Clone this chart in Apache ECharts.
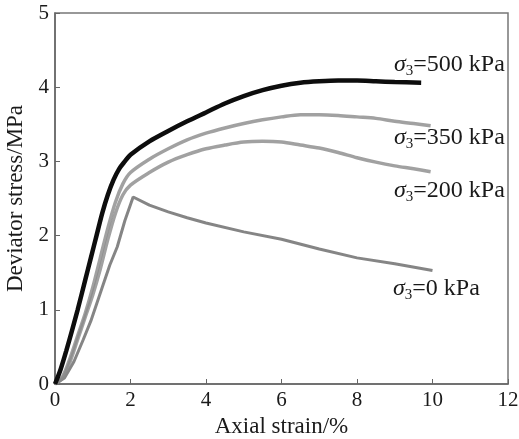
<!DOCTYPE html>
<html>
<head>
<meta charset="utf-8">
<script src="https://cdn.jsdelivr.net/npm/echarts@6/dist/echarts.min.js"></script>
<style>
  html, body { margin: 0; padding: 0; background: #fff; }
  #chart { width: 519px; height: 439px; }
</style>
</head>
<body>
<div id="chart"></div>
<script>
// Triaxial test: deviator stress vs axial strain at four confining pressures
const xTicks = [0, 2, 4, 6, 8, 10, 12];
const yTicks = [0, 1, 2, 3, 4, 5];

// [axial strain %, deviator stress MPa]
const curve500 = [[0,0],[0.15,0.2],[0.3,0.45],[0.45,0.72],[0.6,1.0],[0.8,1.4],[0.95,1.7],[1.1,2.0],[1.25,2.3],[1.4,2.55],[1.55,2.75],[1.7,2.9],[1.85,3.0],[2,3.09],[2.5,3.27],[3,3.41],[3.5,3.54],[4,3.66],[4.5,3.78],[5,3.88],[5.5,3.96],[6,4.02],[6.5,4.06],[7,4.08],[7.5,4.09],[8,4.09],[8.5,4.08],[9,4.07],[9.7,4.06]];
const curve350 = [[0,0],[0.2,0.1],[0.4,0.35],[0.6,0.65],[0.8,0.95],[1.0,1.3],[1.2,1.7],[1.4,2.1],[1.6,2.45],[1.8,2.7],[2,2.85],[2.5,3.03],[3,3.17],[3.5,3.29],[4,3.38],[4.5,3.45],[5,3.51],[5.5,3.56],[6,3.6],[6.5,3.63],[7,3.63],[7.5,3.62],[8,3.6],[8.5,3.58],[9,3.54],[9.5,3.51],[9.95,3.48]];
const curve200 = [[0,0],[0.2,0.08],[0.4,0.3],[0.6,0.6],[0.8,0.9],[1.0,1.2],[1.2,1.55],[1.4,1.95],[1.6,2.3],[1.8,2.55],[2,2.68],[2.5,2.85],[3,2.99],[3.5,3.09],[4,3.17],[4.5,3.22],[5,3.26],[5.5,3.27],[6,3.26],[6.5,3.22],[7,3.18],[7.5,3.12],[8,3.05],[8.5,2.99],[9,2.94],[9.5,2.9],[9.95,2.86]];
const curve0 = [[0,0],[0.25,0.08],[0.5,0.3],[0.75,0.6],[0.95,0.85],[1.25,1.3],[1.45,1.6],[1.65,1.85],[1.85,2.2],[2.07,2.52],[2.5,2.41],[3,2.32],[3.5,2.24],[4,2.17],[5,2.05],[6,1.95],[7,1.82],[8,1.7],[9,1.62],[10,1.53]];

const pressures = ['500', '350', '200', '0'];

const serif = '"Liberation Serif", "DejaVu Serif", serif';
const chart = echarts.init(document.getElementById('chart'), null, { renderer: 'canvas' });

function curveLabel(p) {
  return '{s|σ}{sub|3}{n|=' + p + ' kPa}';
}
const labelRich = {
  s: { fontFamily: serif, fontStyle: 'italic', fontSize: 24, fill: '#1a1a1a' },
  sub: { fontFamily: serif, fontSize: 15, fill: '#1a1a1a', padding: [13, 0, 0, 0] },
  n: { fontFamily: serif, fontSize: 24, fill: '#1a1a1a' }
};

function textEl(left, top, p) {
  return {
    type: 'text', left: left, top: top,
    style: { text: curveLabel(p), rich: labelRich, fill: '#1a1a1a' }
  };
}

chart.setOption({
  animation: false,
  grid: {
    left: 55, right: 11, top: 13, bottom: 55,
    outerBoundsMode: 'none', containLabel: false,
    show: true, borderColor: '#777', borderWidth: 1.5
  },
  xAxis: {
    type: 'value', min: xTicks[0], max: xTicks[xTicks.length - 1], interval: 2,
    name: 'Axial strain/%', nameLocation: 'middle', nameGap: 31,
    nameTextStyle: { fontFamily: serif, fontSize: 23, color: '#1a1a1a' },
    axisLine: { show: true, lineStyle: { color: '#666', width: 1.5 } },
    axisTick: { inside: true, length: 5, lineStyle: { color: '#666' } },
    axisLabel: { fontFamily: serif, fontSize: 21, color: '#1a1a1a', margin: 6 },
    splitLine: { show: false }
  },
  yAxis: {
    type: 'value', min: yTicks[0], max: yTicks[yTicks.length - 1], interval: 1,
    name: 'Deviator stress/MPa', nameLocation: 'middle', nameGap: 24,
    nameTextStyle: { fontFamily: serif, fontSize: 23, color: '#1a1a1a' },
    axisLine: { show: true, lineStyle: { color: '#666', width: 1.5 } },
    axisTick: { inside: true, length: 5, lineStyle: { color: '#666' } },
    axisLabel: { fontFamily: serif, fontSize: 21, color: '#1a1a1a', margin: 6 },
    splitLine: { show: false }
  },
  series: [
    { name: '0', type: 'line', data: curve0, showSymbol: false, smooth: false,
      lineStyle: { color: '#707070', width: 3, opacity: 0.85 } },
    { name: '200', type: 'line', data: curve200, showSymbol: false, smooth: 0.3,
      lineStyle: { color: '#8a8a8a', width: 3.5, opacity: 0.8 } },
    { name: '350', type: 'line', data: curve350, showSymbol: false, smooth: 0.3,
      lineStyle: { color: '#8a8a8a', width: 3.5, opacity: 0.8 } },
    { name: '500', type: 'line', data: curve500, showSymbol: false, smooth: 0.3,
      lineStyle: { color: '#0d0d0d', width: 4.5 } }
  ],
  graphic: [
    textEl(394, 53, pressures[0]),
    textEl(394, 126, pressures[1]),
    textEl(394, 179, pressures[2]),
    textEl(393, 277, pressures[3])
  ]
});
</script>
</body>
</html>
